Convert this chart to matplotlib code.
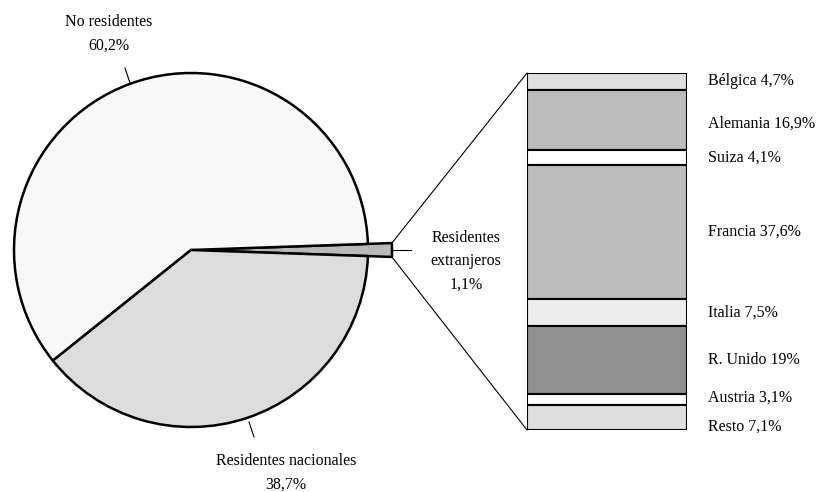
import numpy as np
import matplotlib.pyplot as plt
from matplotlib.patches import ConnectionPatch

# pie data (counterclockwise order starting at the small slice)
pie_labels = ['Residentes\nextranjeros\n1,1%', 'No residentes\n60,2%', 'Residentes nacionales\n38,7%']
pie_values = [1.1, 60.2, 38.7]
pie_colors = ['#b9b9b9', '#f8f8f8', '#dcdcdc']

# breakdown of foreign residents, top to bottom
countries = ['Bélgica', 'Alemania', 'Suiza', 'Francia', 'Italia', 'R. Unido', 'Austria', 'Resto']
shares = [4.7, 16.9, 4.1, 37.6, 7.5, 19.0, 3.1, 7.1]
share_text = ['4,7%', '16,9%', '4,1%', '37,6%', '7,5%', '19%', '3,1%', '7,1%']
bar_colors = ['#e0e0e0', '#bcbcbc', '#ffffff', '#bcbcbc', '#ededed', '#8f8f8f', '#ffffff', '#dedede']

plt.rcParams['font.family'] = ['Liberation Serif', 'DejaVu Serif']
FS = 11.5
LS = 1.6

W, H = 818, 492
fig = plt.figure(figsize=(W / 100, H / 100), dpi=100)

# pie axes: one data unit = one pixel
ax = fig.add_axes([0, 0, 1, 1])
cx, cy, r = 191, 242, 177
start = -pie_values[0] * 3.6 / 2
wedges, _ = ax.pie(pie_values, colors=pie_colors, startangle=start, counterclock=True,
                   center=(cx, cy), radius=r, frame=True,
                   wedgeprops=dict(edgecolor='black', linewidth=1.8))
r_ext = r + 24
wedges[0].set_radius(r_ext)
ax.set_xlim(0, W)
ax.set_ylim(0, H)
ax.set_aspect('auto')
ax.axis('off')

# labels for the pie
ax.text(109, H - 34, pie_labels[1], ha='center', va='center', fontsize=FS, linespacing=LS)
ax.plot([125, 130], [H - 68, H - 83], color='black', lw=0.8)
ax.text(286, H - 473, pie_labels[2], ha='center', va='center', fontsize=FS, linespacing=LS)
ax.plot([249, 254], [H - 422, H - 437], color='black', lw=0.8)
ax.text(466, H - 261, pie_labels[0], ha='center', va='center', fontsize=FS, linespacing=LS)
ax.plot([cx + r_ext + 1, cx + r_ext + 19], [cy, cy], color='black', lw=0.8)

# stacked bar axes
bx0, bx1, by0, by1 = 527, 687, 73, 430
ax2 = fig.add_axes([bx0 / W, (H - by1) / H, (bx1 - bx0) / W, (by1 - by0) / H])
total = sum(shares)
bottoms = total - np.cumsum(shares)
ax2.bar(0, shares, bottom=bottoms, width=1, color=bar_colors, edgecolor='black', linewidth=1.5)
ax2.set_xlim(-0.5, 0.5)
ax2.set_ylim(0, total)
ax2.axis('off')

nudges = [0, -4, 0, 0, 0, 0, 1, -9]  # pixel shifts so labels don't collide
for name, val, txt, b, dy in zip(countries, shares, share_text, bottoms, nudges):
    ax2.annotate(f'{name} {txt}', xy=(1.0, b + val / 2), xycoords=('axes fraction', 'data'),
                 xytext=(15, dy * 0.72), textcoords='offset points',
                 ha='left', va='center', fontsize=FS)

# lines joining the slice to the bar
a = np.deg2rad(pie_values[0] * 3.6 / 2)
for sgn, yb in [(1, total), (-1, 0)]:
    p = (cx + r_ext * np.cos(a), cy + sgn * r_ext * np.sin(a))
    con = ConnectionPatch(xyA=p, coordsA=ax.transData, xyB=(-0.5, yb), coordsB=ax2.transData,
                          color='black', lw=0.8)
    fig.add_artist(con)

fig.savefig('out.png', dpi=100)
